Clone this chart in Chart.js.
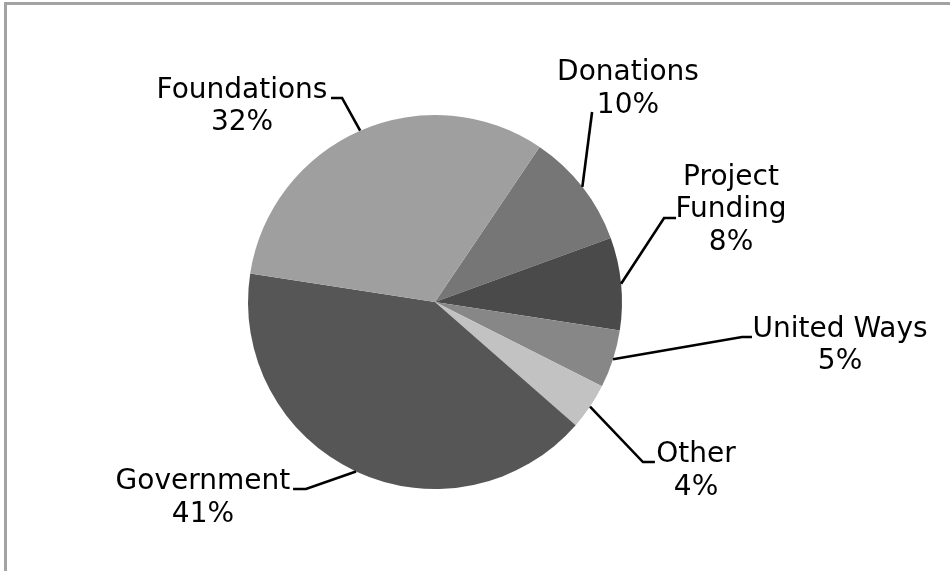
<!DOCTYPE html>
<html>
<head>
<meta charset="utf-8">
<script src="https://cdn.jsdelivr.net/npm/chart.js@4"></script>
<style>
  html, body { margin: 0; padding: 0; background: #ffffff; }
  #wrap { position: relative; width: 950px; height: 571px; overflow: hidden; }
  #frame { position: absolute; left: 4px; top: 2px; width: 960px; height: 600px;
           border-left: 3px solid #a3a3a3; border-top: 3px solid #a3a3a3; pointer-events: none; }
  canvas { position: absolute; left: 0; top: 0; }
</style>
</head>
<body>
<div id="wrap">
  <canvas id="c" width="950" height="571"></canvas>
  <div id="frame"></div>
</div>
<script>
// ---- data ----
const categories = ["Donations", "Project Funding", "United Ways", "Other", "Government", "Foundations"];
const labelLines = [["Donations"], ["Project", "Funding"], ["United Ways"], ["Other"], ["Government"], ["Foundations"]];
const shares = [10, 8, 5, 4, 41, 32];
const sliceColors = ["#767676", "#4a4a4a", "#878787", "#c2c2c2", "#565656", "#9f9f9f"];

// label layout (in units of pie radius, relative to pie centre)
// text: centre x / first baseline; path: leader points after the arc point
const labelLayout = [
  { tx: 1.032, ty: -1.187, path: [[0.840, -1.016]] },
  { tx: 1.583, ty: -0.626, path: [[1.225, -0.449], [1.289, -0.449]] },
  { tx: 2.166, ty: 0.187, path: [[1.642, 0.187], [1.695, 0.187]] },
  { tx: 1.396, ty: 0.856, path: [[1.112, 0.856], [1.176, 0.856]] },
  { tx: -1.241, ty: 1.000, path: [[-0.690, 1.000], [-0.759, 1.000]] },
  { tx: -1.032, ty: -1.091, path: [[-0.497, -1.091], [-0.556, -1.091]] }
];

const lineGap = 32.5;

const labelPlugin = {
  id: 'pieLabels',
  afterDatasetsDraw(chart) {
    const ctx = chart.ctx;
    const meta = chart.getDatasetMeta(0);
    const total = shares.reduce((a, b) => a + b, 0);
    meta.data.forEach((arc, i) => {
      const p = arc.getProps(['x', 'y', 'startAngle', 'endAngle', 'outerRadius'], true);
      const R = p.outerRadius;
      const mid = (p.startAngle + p.endAngle) / 2;
      const sx = p.x + Math.cos(mid) * R;
      const sy = p.y + Math.sin(mid) * R;
      const lay = labelLayout[i];
      ctx.save();
      ctx.strokeStyle = '#000000';
      ctx.lineWidth = 2.6;
      ctx.lineJoin = 'miter';
      ctx.beginPath();
      ctx.moveTo(sx, sy);
      lay.path.forEach(pt => ctx.lineTo(p.x + pt[0] * R, p.y + pt[1] * R));
      ctx.stroke();
      ctx.fillStyle = '#000000';
      ctx.font = '28px "DejaVu Sans", Verdana, sans-serif';
      ctx.textAlign = 'center';
      ctx.textBaseline = 'alphabetic';
      const lines = labelLines[i].concat([Math.round(shares[i] / total * 100) + '%']);
      const cx = p.x + lay.tx * R;
      let by = p.y + lay.ty * R;
      lines.forEach((t, k) => ctx.fillText(t, cx, by + k * lineGap));
      ctx.restore();
    });
  }
};

new Chart(document.getElementById('c'), {
  type: 'pie',
  data: {
    labels: categories,
    datasets: [{
      data: shares,
      backgroundColor: sliceColors,
      borderWidth: 0,
      hoverOffset: 0
    }]
  },
  options: {
    responsive: false,
    animation: false,
    rotation: 34,
    layout: { padding: { left: 248, right: 328, top: 115, bottom: 82 } },
    plugins: {
      legend: { display: false },
      tooltip: { enabled: false },
      title: { display: false }
    }
  },
  plugins: [labelPlugin]
});
</script>
</body>
</html>
